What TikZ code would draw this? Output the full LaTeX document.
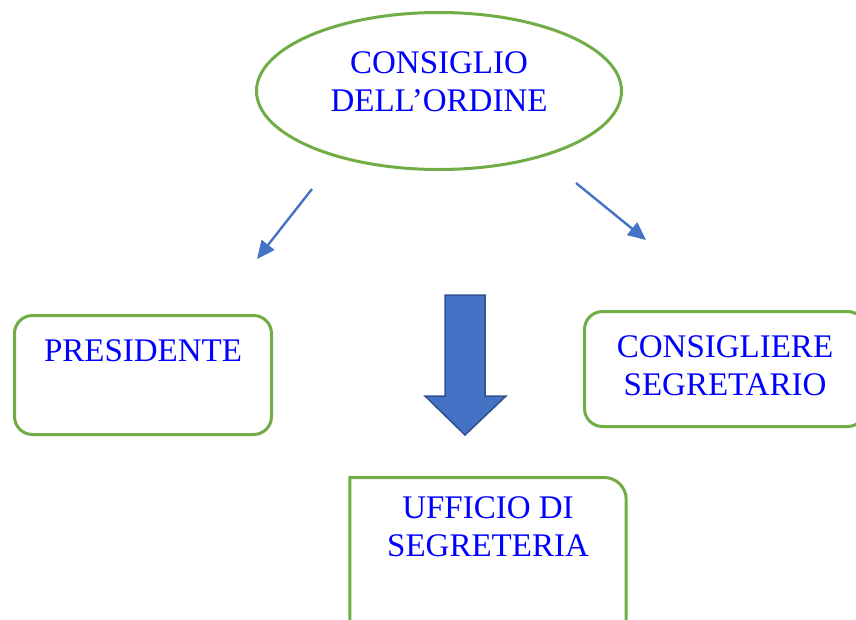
\documentclass[tikz,border=0pt]{standalone}
\usepackage{fontspec}
\setmainfont{Liberation Serif}
\usepackage{tikz}
\usetikzlibrary{positioning, arrows.meta, shapes}

\definecolor{bordo}{HTML}{70AD47}
\definecolor{freccia}{HTML}{4472C4}
\definecolor{frecciabordo}{HTML}{2F528F}

\tikzset{
    cornice/.style={draw=bordo, line width=3pt, rounded corners=18pt},
    titolo/.style={text=blue, align=center, inner sep=0pt,
        font=\fontsize{33pt}{38pt}\selectfont},
    freccina/.style={draw=freccia, line width=2.4pt,
        -{Triangle[length=18pt, width=16pt]}}
}

\begin{document}
\begin{tikzpicture}[x=1pt, y=-1pt]
        \useasboundingbox (0,0) rectangle (856,619);
        \clip (0,0) rectangle (856,619);

        % consiglio
        \node[draw=bordo, line width=3pt, ellipse, minimum width=365pt,
            minimum height=157pt] (consiglio) at (439,91) {};
        \node[titolo] (consigliotxt) at (439,82) {CONSIGLIO\\DELL’ORDINE};

        % riquadri
        \node[cornice, minimum width=257pt, minimum height=119pt] (presidente) at (143,375) {};
        \node[titolo] (presidentetxt) at (143,350.5) {PRESIDENTE};

        \node[cornice, minimum width=281pt, minimum height=115pt] (segretario) at (725,369) {};
        \node[titolo] (segretariotxt) at (725,365.5) {CONSIGLIERE\\SEGRETARIO};

        \node[minimum width=276pt, minimum height=200pt, inner sep=0pt,
            anchor=north] (ufficio) at (488,477.5) {};
        \draw[draw=bordo, line width=3pt] (ufficio.south west) -- (ufficio.north west)
            -- ([xshift=-22pt]ufficio.north east) arc[start angle=90, end angle=0, radius=22pt]
            -- (ufficio.south east);
        \node[titolo] (ufficiotxt) at (488,527) {UFFICIO DI\\SEGRETERIA};

        % frecce
        \coordinate (sx1) at (312,189);
        \coordinate (sx2) at (257,259);
        \coordinate (dx1) at (576,183);
        \coordinate (dx2) at (646,240);
        \draw[freccina] (sx1) -- (sx2);
        \draw[freccina] (dx1) -- (dx2);

        \draw[fill=freccia, draw=frecciabordo, line width=1.5pt, line join=miter]
            (445,295) -- (485,295) -- (485,396) -- (506,396) -- (465,435)
            -- (425,396) -- (445,396) -- cycle;

    \end{tikzpicture}
\end{document}
